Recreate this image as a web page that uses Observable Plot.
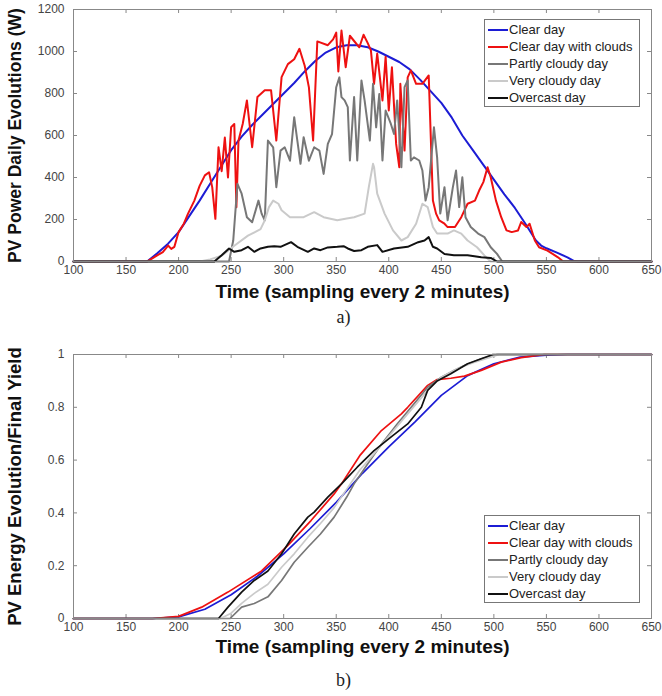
<!DOCTYPE html>
<html>
<head>
<meta charset="utf-8">
<script src="https://cdn.jsdelivr.net/npm/d3@7"></script>
<script src="https://cdn.jsdelivr.net/npm/@observablehq/plot@0.6"></script>
<style>
  body { margin: 0; background: #fff; }
  #wrap { position: relative; width: 662px; height: 696px; font-family: "Liberation Sans", Arial, sans-serif; }
  .chart { position: absolute; left: 0; }
  .legend { position: absolute; box-sizing: border-box; border: 1px solid #777; background: #fff;
            font-size: 13px; color: #222; padding-top: 1px; }
  .legend .row { display: flex; align-items: center; height: 17px; white-space: nowrap; }
  .legend .sw { width: 20px; height: 2px; margin: 0 1px 0 3px; flex: none; }
</style>
</head>
<body>
<div id="wrap">
  <div id="top" class="chart" style="top:0"></div>
  <div id="bottom" class="chart" style="top:335px"></div>
</div>
<script>
// ---------- labels ----------
const seriesNames = ["Clear day", "Clear day with clouds", "Partly cloudy day", "Very cloudy day", "Overcast day"];
const timeTicks = [100, 150, 200, 250, 300, 350, 400, 450, 500, 550, 600, 650];
const powerTicks = [0, 200, 400, 600, 800, 1000, 1200];
const yieldTicks = [0, 0.2, 0.4, 0.6, 0.8, 1];
const xTitle = "Time (sampling every 2 minutes)";
const powerTitle = "PV Power Daily Evolutions (W)";
const yieldTitle = "PV Energy Evolution/Final Yield";

// ---------- a) PV power [time, W] ----------
const powerClearDay = [[100,0],[170,0],[180,40],[190,85],[200,140],[210,215],[220,290],[230,370],[240,450],[250,530],[260,595],[270,650],[280,700],[290,750],[300,800],[310,850],[320,905],[330,955],[340,995],[350,1020],[360,1030],[370,1030],[380,1020],[390,1000],[400,975],[410,950],[420,915],[430,865],[440,810],[450,755],[460,685],[470,600],[480,530],[490,460],[500,390],[510,320],[520,255],[530,180],[540,100],[545,76],[550,63],[560,42],[570,20],[576,3],[580,0],[650,0]];
const powerClouds = [[100,0],[170,0],[175,15],[180,30],[185,45],[190,76],[193,60],[196,70],[200,140],[205,180],[209,228],[215,290],[220,360],[225,410],[229,425],[232,354],[235,203],[238,544],[241,430],[244,590],[247,400],[250,640],[253,655],[255,258],[257,576],[261,655],[265,767],[270,544],[275,783],[282,815],[288,815],[293,576],[298,878],[304,940],[310,963],[315,1013],[320,932],[324,829],[328,576],[332,1048],[342,1030],[347,1058],[350,1090],[352,905],[355,1100],[359,925],[363,1075],[367,1050],[372,1020],[376,1080],[380,1040],[383,1005],[386,846],[389,990],[394,767],[397,975],[400,719],[403,925],[407,560],[410,449],[411,846],[415,528],[418,877],[421,910],[426,846],[432,846],[438,886],[442,290],[445,228],[448,196],[453,180],[456,164],[463,164],[469,211],[475,275],[482,290],[486,338],[490,378],[494,449],[497,401],[502,290],[507,211],[512,148],[517,140],[523,148],[526,188],[531,164],[534,180],[539,100],[543,68],[551,52],[561,20],[566,0],[650,0]];
const powerPartly = [[100,0],[248,0],[252,100],[256,370],[260,323],[265,211],[270,187],[276,290],[279,228],[282,196],[285,576],[290,544],[293,354],[297,528],[301,544],[306,480],[310,687],[313,576],[316,465],[319,592],[324,480],[329,544],[334,528],[338,417],[342,560],[346,607],[350,830],[353,877],[355,783],[358,767],[361,735],[363,481],[367,783],[370,481],[374,862],[377,767],[382,576],[385,846],[388,639],[391,798],[394,481],[397,719],[402,655],[405,607],[408,767],[412,449],[415,830],[418,862],[421,481],[424,496],[429,481],[432,433],[435,290],[438,354],[443,639],[446,496],[449,228],[453,354],[456,196],[461,354],[464,433],[467,259],[470,401],[473,211],[478,164],[485,133],[491,116],[497,68],[503,36],[508,0],[650,0]];
const powerVeryCloudy = [[100,0],[220,0],[230,10],[241,27],[253,75],[266,123],[278,154],[282,196],[286,259],[290,290],[295,275],[298,244],[306,211],[319,211],[329,235],[338,211],[351,196],[360,205],[367,211],[377,228],[381,354],[385,465],[386,449],[389,323],[396,228],[404,148],[412,100],[418,116],[426,180],[432,275],[437,259],[442,164],[446,133],[456,133],[462,148],[469,133],[475,100],[484,68],[491,29],[497,0],[650,0]];
const powerOvercast = [[100,0],[234,0],[241,30],[248,62],[253,46],[260,54],[266,70],[272,46],[278,62],[285,70],[291,73],[297,70],[307,92],[313,70],[323,46],[329,62],[335,54],[342,67],[351,70],[357,73],[361,62],[367,50],[374,54],[380,70],[389,78],[394,46],[405,62],[418,70],[428,92],[434,100],[438,116],[442,70],[446,62],[453,36],[462,30],[475,30],[488,20],[497,17],[503,0],[650,0]];

// ---------- b) energy / final yield [time, fraction] ----------
const yieldClearDay = [[100,0],[175,0],[200,0.006],[225,0.035],[250,0.09],[275,0.16],[300,0.245],[325,0.34],[350,0.44],[375,0.55],[400,0.65],[425,0.745],[450,0.845],[475,0.92],[500,0.965],[525,0.99],[550,0.998],[570,1],[650,1]];
const yieldClouds = [[100,0],[175,0],[200,0.008],[222,0.043],[247,0.1],[279,0.18],[304,0.277],[326,0.371],[348,0.472],[355,0.51],[373,0.62],[393,0.712],[412,0.775],[418,0.8],[437,0.883],[446,0.905],[459,0.91],[472,0.918],[488,0.94],[507,0.971],[526,0.988],[538,0.995],[548,1],[650,1]];
const yieldPartly = [[100,0],[249,0],[260,0.043],[272,0.057],[285,0.082],[298,0.144],[310,0.213],[323,0.27],[335,0.32],[348,0.384],[360,0.46],[367,0.51],[380,0.586],[393,0.66],[408,0.737],[424,0.813],[437,0.876],[450,0.914],[462,0.939],[472,0.958],[488,0.984],[503,1],[650,1]];
const yieldVeryCloudy = [[100,0],[240,0],[250,0.02],[260,0.057],[272,0.095],[285,0.13],[298,0.194],[310,0.245],[323,0.308],[335,0.36],[348,0.42],[360,0.49],[372,0.56],[386,0.624],[418,0.775],[437,0.864],[450,0.914],[465,0.946],[481,0.97],[497,0.99],[505,1],[650,1]];
const yieldOvercast = [[100,0],[238,0],[247,0.043],[260,0.1],[272,0.144],[285,0.18],[298,0.245],[310,0.32],[323,0.384],[329,0.403],[342,0.46],[355,0.51],[370,0.573],[386,0.636],[402,0.687],[418,0.737],[431,0.8],[437,0.864],[446,0.9],[459,0.927],[475,0.965],[488,0.984],[499,1],[650,1]];

const colors = ["#1c1cd4", "#ee1111", "#777777", "#cacaca", "#111111"];

function rows(list) {
  return list.flatMap((pts, i) => pts.map(([t, v]) => ({series: seriesNames[i], t, v})));
}
const powerRows = rows([powerClearDay, powerClouds, powerPartly, powerVeryCloudy, powerOvercast]);
const yieldRows = rows([yieldClearDay, yieldClouds, yieldPartly, yieldVeryCloudy, yieldOvercast]);

function chart({rowsData, yDomain, yTicks, yFormat, height, marginTop, marginBottom, yTitle, yTitleSize, caption, xTitleDy, captionDy, strokeWidth}) {
  const ml = 73, mr = 11;
  const fw = 662 - ml - mr, fh = height - marginTop - marginBottom;
  return Plot.plot({
    width: 662, height, marginLeft: ml, marginRight: mr, marginTop, marginBottom,
    style: {fontFamily: "'Liberation Sans', Arial, sans-serif", fontSize: "12px", color: "#444", background: "white", overflow: "visible"},
    x: {domain: [100, 650]},
    y: {domain: yDomain},
    color: {domain: seriesNames, range: colors},
    marks: [
      Plot.axisX({ticks: timeTicks, tickSize: 0, tickPadding: 4, label: null, tickFormat: d => String(d)}),
      Plot.axisY({ticks: yTicks, tickSize: 0, tickPadding: 9, label: null, tickFormat: yFormat}),
      Plot.ruleX(timeTicks, {x: d => d, insetTop: fh - 4, stroke: "#888"}),
      Plot.ruleX(timeTicks, {x: d => d, insetBottom: fh - 4, stroke: "#888"}),
      Plot.ruleY(yTicks, {y: d => d, insetRight: fw - 4, stroke: "#888"}),
      Plot.ruleY(yTicks, {y: d => d, insetLeft: fw - 4, stroke: "#888"}),
      Plot.line(rowsData, {x: "t", y: "v", z: "series", stroke: "series", strokeWidth, strokeLinejoin: "round"}),
      Plot.frame({stroke: "#888"}),
      Plot.text([yTitle], {frameAnchor: "left", textAnchor: "middle", rotate: -90, dx: -58, fontWeight: "bold", fontSize: yTitleSize, fill: "#111"}),
      Plot.text([xTitle], {frameAnchor: "bottom", textAnchor: "middle", dy: xTitleDy, fontWeight: "bold", fontSize: 19, fill: "#111"}),
      Plot.text([caption], {frameAnchor: "bottom", textAnchor: "middle", dx: -19, dy: captionDy, fontSize: 18, fontFamily: "'Liberation Serif', 'Times New Roman', serif", fill: "#222"})
    ]
  });
}

document.getElementById("top").append(chart({
  rowsData: powerRows, yDomain: [0, 1200], yTicks: powerTicks, yFormat: d => String(d),
  height: 335, marginTop: 9, marginBottom: 74, yTitle: powerTitle, yTitleSize: 17.5, caption: "a)",
  xTitleDy: 36, captionDy: 61, strokeWidth: 2
}));
document.getElementById("bottom").append(chart({
  rowsData: yieldRows, yDomain: [0, 1], yTicks: yieldTicks, yFormat: d => String(d),
  height: 361, marginTop: 19, marginBottom: 78, yTitle: yieldTitle, yTitleSize: 18.5, caption: "b)",
  xTitleDy: 34, captionDy: 67, strokeWidth: 1.7
}));

function legend(left, top) {
  const box = document.createElement("div");
  box.className = "legend";
  Object.assign(box.style, {left: left + "px", top: top + "px", width: "156px", height: "88px"});
  seriesNames.forEach((name, i) => {
    const r = document.createElement("div");
    r.className = "row";
    const sw = document.createElement("span");
    sw.className = "sw";
    sw.style.background = colors[i];
    const tx = document.createElement("span");
    tx.textContent = name;
    r.append(sw, tx);
    box.append(r);
  });
  document.getElementById("wrap").append(box);
}
legend(484, 19);
legend(484, 515);
</script>
</body>
</html>
